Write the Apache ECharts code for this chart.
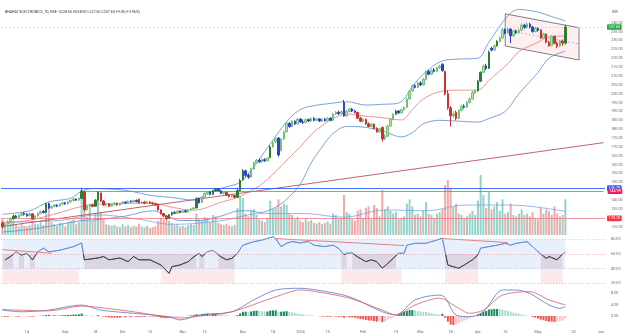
<!DOCTYPE html>
<html>
<head>
<meta charset="utf-8">
<script src="https://cdn.jsdelivr.net/npm/echarts@6/dist/echarts.min.js"></script>
<style>
html,body{margin:0;padding:0;background:#fff}
#c{width:630px;height:336px}
</style>
</head>
<body>
<div id="c"></div>
<script>
// ---- data ---------------------------------------------------------------
const symbolName = 'BHARAT ELECTRONICS, 1D, NSE';
const firstSession = '2023-08-01';
const lastAxisDay = '2024-06-04';

// daily bars: [open, close, low, high]
const ohlc = [
[127,125,124,128],[125,126.5,124.5,127.5],[126.5,128,125.5,128.8],[128,129.5,127.5,130.2],[129.5,131,129,131.8],
[131,130.2,129.6,131.6],[130.2,131.4,129.8,132],[131.4,132.6,131,133.2],[132.6,132,131.3,133.4],[132,131.2,130.6,132.6],
[131.2,132.3,130.8,132.9],[132.3,129.5,129,132.6],[129.5,131,129,131.5],[131,132.5,130.6,133],[132.5,133.6,132,134.2],
[133.6,133,132.5,134.4],[133,138,132.8,138.5],[138,135.6,135,138.6],[135.6,136.4,135,137],[136.4,137.2,136,137.8],
[137.2,136.6,136,137.6],[136.6,137.8,136.3,138.3],[137.8,138.5,137.2,139],[138.5,137.9,137.4,139],[137.9,139,137.5,139.6],
[139,139.8,138.6,140.3],[139.8,140.6,139.3,141.2],[140.6,140,139.5,141],[140,141,139.6,141.5],[141,145,140.5,147],
[144.6,134.6,133.8,145.2],[134.6,136.8,134,137.5],[136.8,137.4,136,138],[137.4,136.5,136,138],[136.5,140,136.2,140.5],
[140,144.4,139.8,145],[144,139.5,139,144.3],[139.5,137.2,136.8,140],[137.2,137.8,136.5,138.5],[137.8,136.6,136,138.2],
[136.6,137.6,136.2,138],[137.6,138.2,137,138.8],[138.2,137.3,136.8,138.6],[137.3,138,136.8,138.5],[138,138.9,137.6,139.4],
[138.9,138.4,137.9,139.3],[138.4,139.4,138,139.8],[139.4,139,138.5,139.9],[139,139.8,138.6,140.2],[139.8,139.2,138.7,140.4],
[140.5,138.4,138,140.8],[138.4,138.9,138,139.4],[138.9,138.2,137.7,139.3],[138.2,139,137.9,139.5],[139,138.4,137.9,139.4],
[138.4,138,137.4,138.9],[138,137.4,136.9,138.4],[137.4,134.5,134,137.6],[134.5,132.4,131.8,134.8],[132.4,131,130.4,132.8],
[131,129.8,128.9,131.4],[129.8,131.8,129.4,132.2],[131.8,133,131.2,133.5],[133,132.6,132,133.8],[132.6,133.8,132.2,134.2],
[133.8,133,132.6,134.3],[133,134,132.7,134.5],[134,133.4,132.9,134.4],[133.4,134.4,133,134.9],[134.4,135,134,135.5],
[135,135.6,134.6,136.2],[135.6,141,135.3,141.4],[141,138.6,138,141.5],[138.6,141.5,138.3,142],[141.5,143.8,141,144.4],
[143.8,144.6,143,145.2],[144.6,143.2,142.6,145],[143.2,145.2,142.9,145.8],[145.2,146.3,144.8,146.9],[146.3,145.3,144.8,146.7],
[145.3,143.8,143.4,145.6],[143.8,144.4,143.2,144.9],[144.4,142.8,142.3,144.7],[142.8,142,141.4,143.3],[142,142.6,141.4,143.2],
[142.6,141.6,141,143],[141.6,145.4,141.3,147],[145.4,151,145,152],[151.5,156.5,151,157.5],[156.5,154,153,157.2],
[154,153,152,155],[153,157.5,152.6,158.2],[157.5,161,157,161.8],[161,162.5,160.3,163.2],[162.5,161.6,161,163.4],
[161.6,162.8,161.2,163.5],[162.8,162.2,161.5,163.6],[162.2,163.7,161.8,164.2],[164,170,163.6,171],[170,172.5,169.5,173.5],
[173,174.5,172,175.5],[175,165.5,164.5,175.5],[168,174.5,167.5,175],[174.5,178.5,174,179.2],[178.5,183.2,178,184],
[183.2,181.5,180.8,184],[181.5,184.5,181,185.2],[184.5,183,182.4,185],[183,185.6,182.6,186.2],[185.6,184,183.5,186.3],
[184,183.8,183,185.5],[183.8,185.4,183.3,186],[185.4,184.6,184,186],[184.6,186,184.2,186.6],[186,185,184.4,186.8],
[185,185.8,184.5,186.4],[185.8,184.6,184,186.3],[184.6,185.6,184,186.2],[185.6,184.8,184.2,186.4],[184.8,186.2,184.4,186.8],
[186.2,185,184.5,186.8],[185,188.5,184.6,189.2],[188.5,189.5,187.8,190.2],[189.5,188.8,188,190.4],[188.8,189.8,188.3,190.6],
[195,187.5,187,196.5],[187.5,190,187,191],[190,191.4,189.4,192.2],[191.4,190.2,189.6,192],[190.2,189.5,188.8,191],
[189.5,186.2,185.6,189.8],[186.2,184.5,184,187],[184.5,185.5,183.8,186.2],[185.5,183,182.4,186],[183,181.5,181,183.8],
[181.5,182.8,181,183.4],[182.8,180.4,179.8,183.2],[180.4,178.5,178,181],[178.5,180.2,178,180.8],[181,174.5,173,181.4],
[174.5,176,174,177.2],[176,181.8,175.6,182.4],[181.8,185.5,181.4,186.2],[185.5,188.4,185,189],[188.4,190.2,188,191],
[190.2,189.2,188.5,190.8],[189.2,191,188.8,191.6],[191,192.2,190.4,192.8],[192.2,197,192,197.8],[197,201.5,196.5,202.2],
[201.5,204.5,201,205.2],[204.5,203.6,203,205.4],[203.6,206,203.2,206.8],[206,205,204.3,207],[205,208,204.6,208.8],
[208,212.5,207.6,213.2],[212.5,211,210.4,213.4],[211,213.4,210.6,214],[213.4,212.6,212,214.4],[212.6,214.6,212.2,215.2],
[214.6,215.5,214,216.2],[216.5,213,212.4,217.2],[212.5,200,199,212.8],[200,192,191,202],[192,187.5,181.5,193],
[187.5,188.5,186.4,190],[189.5,186,185,190.5],[186,190.5,185.6,191.2],[190.5,193,190,193.8],[193,192.4,191.6,194],
[192.4,195,192,195.8],[195,197,194.5,197.8],[197,200.5,196.6,201.5],[200.5,201.6,199.8,202.5],[201.6,207,201.2,207.8],
[207,212,206.6,212.6],[212,215.6,211.6,216.4],[215.6,214.2,213.4,216.8],[214.2,223.4,214,224.4],[225.6,224.6,223.8,226.4],
[224.6,227,224.2,227.8],[227,229.5,226.6,230.2],[229.5,231.4,228.8,232.2],[231.4,236,231,237],[236,234.2,233.4,236.8],
[234.2,236.4,233.8,237.4],[236.4,232.6,228.5,236.8],[232.6,235.4,232,236],[235.4,234.4,233.6,236.2],[234.4,235.8,233.8,236.6],
[235.8,238.6,235.2,239.6],[238.6,237.4,236.6,239.4],[237.4,239.2,236.8,240.2],[239.2,237.6,236.8,240],[237.6,235,234.4,238.2],
[235,236.8,234.6,237.6],[236.8,235.8,235,237.4],[235.8,231.4,230.8,236.4],[231.4,233.6,231,234.4],[233.6,229,228.4,234],
[229,227.2,226.4,229.8],[227.2,232.4,226.8,233],[232.4,228.4,227.8,232.8],[228.4,226.8,225.6,229.4],[226.8,229.6,226.2,230.4],
[229.6,228.55,227,230.6],[228.55,237.6,227.6,238.9]
];

// bar colouring from the trend study: G strong up, g up, B pullback, R down
const barTone = [
'RgggGBggBB','gRgggBGBgg','BggBgggBgG','RggRGGRRgR','ggRggBgBgB',
'RgRgRRRRRR','RGGBgBgBgg','gGBgggBGGB','BgRRgRGGGB','BgggBgBgGg',
'gBgggBgBgB','BgBgBgBgBg','BggBgBggBB','RRgRRgRRgR','ggggGBgggg',
'gBgBggBgBg','gBRRRgRggB','ggggGGgBGB','gGggBgBgBg','gBgBBgBRgR','RgRRgRG'
].join('');

// daily volume, millions of shares
const volume = [
22,15,14,18,20,14,12,15,13,12, 14,20,16,15,18,14,30,38,18,15,
13,17,16,12,18,20,22,15,18,63, 48,25,42,20,30,60,32,22,15,14,
13,14,12,11,15,12,14,11,13,12, 16,12,11,13,10,11,12,20,24,22,
26,20,17,14,15,12,13,11,14,15, 14,30,22,20,25,24,18,28,26,17,
15,14,16,13,12,14,38,55,52,30, 26,34,36,28,22,20,18,24,48,36,
38,50,40,44,42,30,28,22,25,20, 18,22,19,21,17,16,18,15,17,19,
16,30,28,22,24,56,32,30,22,20, 34,36,24,38,40,22,42,38,26,63,
36,40,34,30,32,22,24,26,44,50, 40,28,30,26,34,46,30,28,24,30,
32,36,70,77,66,40,44,30,28,24, 26,30,34,28,48,84,56,38,60,36,
40,46,34,50,30,32,44,28,26,30, 36,28,30,26,32,24,22,38,30,36,
34,28,40,30,26,28,50
];
const volumeAvg = [[0,18],[20,20],[35,28],[50,22],[62,15],[80,20],[95,30],[110,30],[125,25],[140,35],[155,34],[170,42],[185,42],[206,33]];

// Bollinger bands (20, 2) read at session index
const bbUpper = [[0,132],[10,134],[17,139],[25,141],[29,145],[33,146.5],[45,145.5],[55,142.5],[62,141.5],[70,140],[76,144.5],[82,147.5],[87,150],[91,157],[94,163],[100,176],[105,186],[109,191],[113,193],[121,194.7],[126,195.5],[133,193.6],[139,194],[145,194.7],[150,204],[154,211],[161,218.5],[167,219.5],[174,220],[178,229],[185,244],[189,247.5],[196,246],[200,244],[206,241]];
const bbMid = [[0,127],[10,128.7],[20,132.5],[29,136.5],[35,137.8],[45,138.2],[55,138.3],[62,136],[70,134.3],[80,138.8],[87,142],[91,145.5],[94,148],[100,156],[105,164],[109,170],[113,177],[117,182],[121,186],[126,188.5],[133,187.3],[139,186.5],[146,185.2],[150,191],[154,197],[161,201.5],[167,202],[174,202],[178,207.5],[185,217],[189,223.7],[196,229],[200,232],[206,232.5]];
const bbLower = [[0,122],[10,123.5],[20,126],[29,128.5],[35,129],[45,131],[55,134],[61,130.5],[65,128.5],[72,128.5],[80,131],[87,134],[91,134],[94,133],[100,136],[105,142],[109,149],[113,161],[117,170],[121,177.5],[126,181.5],[133,181],[139,179],[143,176.7],[146,175.6],[150,178],[154,183],[160,185],[167,184.5],[174,184],[178,186],[184,190],[189,200],[196,212],[200,220],[206,224]];

// drawings on the price pane
const longTrend = [[0,125.2],[220,172.4]];
const channelUpper = [[184,245],[211,237.2]];
const channelLower = [[184,226.9],[211,219]];
const resistanceLevel = 146.79;
const swingLevel = 144.99;
const swingStart = 29;
const supportLevel = 129.70;

// RSI (14)
const rsiPoints = [[1,52],[3,56.5],[5,63],[7,58.6],[9,61],[11,52],[13,63],[15,68],[17,63],[21,65],[24,68],[26,70],[29,75],[30,52],[35,54.5],[37,56.5],[39,52],[43,54.5],[46,49.5],[48,56.5],[50,52],[54,52],[58,45],[61,33.6],[62,42.6],[65,45],[68,49.5],[70,56],[72,61],[73,56.5],[75,63],[77,65],[80,56],[82,52],[84,54],[86,61],[88,72],[92,76.8],[95,79],[99,83.5],[100,81],[102,70],[104,74.5],[106,77],[109,75],[112,77],[114,72],[118,70],[121,72],[123,67.7],[125,59],[126,61],[128,61.5],[130,56],[133,49.5],[135,52],[137,49.5],[139,40.5],[141,47],[143,54],[145,61],[147,61],[148,72],[151,74.5],[155,74.5],[157,76.8],[159,79],[161,81.3],[162,63],[163,45],[165,42.6],[167,40.5],[169,45],[172,52],[174,58.6],[175,68],[178,70],[181,72],[184,74.5],[186,72],[188,74.5],[192,76.8],[194,70],[196,63],[199,54],[200,56.5],[203,52],[204,56.5],[206,63]];
const rsiWeak = [[0,4],[6,8],[10,12],[30,71],[72,74],[79,85],[124,126],[128,144],[162,174],[197,205]];
const rsiLowBand = [[0,28],[58,85],[124,146],[162,174],[197,205]];
const rsiTrends = [[[0,66],[18,61]],[[100,81],[147,71.5]],[[160,81.3],[185,75.5]]];
const rsiLevels = [80,60,40,20];
const rsiSplit = 60;

// MACD (12, 26, 9)
const macdLine = [[0,2.1],[7,1.5],[17,2.1],[29,3.9],[36,2.1],[48,0.95],[61,-0.25],[65,-1.4],[72,0.35],[84,1.5],[92,5.7],[100,9.2],[109,9.8],[115,9.2],[127,6.8],[139,1.5],[144,0.35],[151,5.7],[160,7.4],[162,6.5],[166,0.35],[171,-0.25],[176,1.5],[183,9.2],[188,9.2],[193,8],[200,3.9],[204,2.7],[206,3.3]];
const signalLine = [[0,2.3],[17,1.8],[29,3.5],[40,2.5],[48,1.5],[65,-0.7],[75,0.3],[84,1.5],[100,6.8],[109,9.2],[115,8.6],[127,6.3],[139,2.1],[144,0.35],[151,3.9],[160,6.3],[166,3.3],[171,0.95],[176,2.1],[183,7.4],[193,8.6],[200,5.7],[206,3.9]];
const macdHist = [
-0.2,-0.3,-0.3,-0.2,-0.1,-0.2,-0.3,-0.2,-0.1,-0.1, -0.2,-0.3,-0.2,-0.1,0.1,0.2,0.3,0.4,0.3,0.3,
0.2,0.2,0.3,0.3,0.4,0.4,0.5,0.5,0.6,0.9, 0.4,0.2,0.1,-0.1,0,0.3,0.1,-0.2,-0.4,-0.5,
-0.6,-0.6,-0.6,-0.6,-0.5,-0.5,-0.4,-0.4,-0.3,-0.3, -0.3,-0.3,-0.3,-0.2,-0.2,-0.2,-0.2,-0.4,-0.6,-0.7,
-0.8,-0.7,-0.5,-0.4,-0.3,-0.2,-0.1,0,0.1,0.2, 0.3,0.6,0.5,0.6,0.8,0.9,0.8,0.9,0.9,0.8,
0.6,0.5,0.3,0.1,0,-0.1,0.3,0.9,1.5,1.5, 1.4,1.6,1.8,1.9,1.8,1.7,1.6,1.6,1.9,2.0,
2.0,1.5,1.5,1.6,1.7,1.5,1.3,1.1,0.9,0.7, 0.5,0.4,0.3,0.2,0.1,0,-0.1,-0.2,-0.2,-0.3,
-0.3,-0.2,-0.2,-0.3,-0.3,-0.6,-0.5,-0.5,-0.5,-0.6, -0.9,-1.1,-1.2,-1.4,-1.6,-1.6,-1.8,-2.0,-1.9,-2.2,
-1.9,-1.4,-0.9,-0.5,0,0.8,1.2,1.5,1.8,2.1, 2.1,2.0,1.8,1.6,1.5,1.4,1.2,1.0,0.8,0.6,
0.5,0.8,-0.6,-2.0,-3.0,-3.2,-3.0,-2.6,-2.1,-1.6, -1.2,-0.8,-0.4,-0.1,0.4,1.0,1.5,1.8,2.3,2.4,
2.5,2.5,2.4,2.2,2.0,1.8,1.5,1.2,1.0,0.8, 0.6,0.4,0.2,0,-0.3,-0.6,-0.9,-1.3,-1.5,-1.8,
-2.0,-2.0,-2.1,-2.0,-1.8,-1.6,-1.0
];

// time axis ticks
const timeTicks = [
['2023-08-14','14'],['2023-09-01','Sep'],['2023-09-18','18'],['2023-10-02','Oct'],['2023-10-16','16'],
['2023-11-01','Nov'],['2023-11-13','13'],['2023-12-01','Dec'],['2023-12-18','18'],['2024-01-01','2024'],
['2024-01-15','15'],['2024-02-01','Feb'],['2024-02-19','19'],['2024-03-01','Mar'],['2024-03-18','18'],
['2024-04-01','Apr'],['2024-04-15','15'],['2024-05-01','May'],['2024-05-20','20'],['2024-06-03','Jun']
];

// ---- helpers --------------------------------------------------------------
function sessions(from, to) {
  const out = [];
  const d = new Date(from + 'T00:00:00Z');
  const end = new Date(to + 'T00:00:00Z');
  while (d <= end) {
    const wd = d.getUTCDay();
    if (wd !== 0 && wd !== 6) out.push(d.toISOString().slice(0, 10));
    d.setUTCDate(d.getUTCDate() + 1);
  }
  return out;
}
const days = sessions(firstSession, lastAxisDay);
const tickMap = new Map(timeTicks);

const toneStyle = {
  G: { color: '#2e7d32', color0: '#2e7d32', borderColor: '#2e7d32', borderColor0: '#2e7d32' },
  g: { color: '#b9e0b1', color0: '#b9e0b1', borderColor: '#72bf76', borderColor0: '#72bf76' },
  B: { color: '#2f3fd0', color0: '#2f3fd0', borderColor: '#2f3fd0', borderColor0: '#2f3fd0' },
  R: { color: '#d32f2f', color0: '#d32f2f', borderColor: '#d32f2f', borderColor0: '#d32f2f' }
};

const candleData = ohlc.map((v, i) => ({ value: v, itemStyle: toneStyle[barTone[i]] }));
const volumeData = volume.map((v, i) => ({
  value: v,
  itemStyle: { color: ohlc[i][1] >= ohlc[i][0] ? '#93d3cb' : '#f5a9a6' }
}));
const histData = macdHist.map((v, i) => {
  const prev = i > 0 ? macdHist[i - 1] : v;
  let c;
  if (v >= 0) c = v >= prev ? '#138a5e' : '#a9ded6';
  else c = v <= prev ? '#ef5350' : '#f8c6c8';
  return { value: v, itemStyle: { color: c } };
});

const last = ohlc[ohlc.length - 1];
const prevClose = ohlc[ohlc.length - 2][1];
const chg = last[1] - prevClose;
const sign = chg >= 0 ? '+' : '';
const headerText = symbolName + '  O' + last[0].toFixed(2) + ' H' + last[3].toFixed(2) +
  ' L' + last[2].toFixed(2) + ' C' + last[1].toFixed(2) + ' ' + sign + chg.toFixed(2) +
  ' (' + sign + (chg / prevClose * 100).toFixed(2) + '%)';

// segments of the 40-60 band not covered by a weak stretch
const lastIdx = ohlc.length - 1;
const rsiStrong = [];
let cursor = 0;
rsiWeak.forEach(([a, b]) => { if (a > cursor) rsiStrong.push([cursor, a]); cursor = Math.max(cursor, b); });
if (cursor < lastIdx) rsiStrong.push([cursor, lastIdx]);

const area = (segs, lo, hi, color) => segs.map(([a, b]) => [
  { xAxis: days[a], yAxis: lo, itemStyle: { color: color } },
  { xAxis: days[b], yAxis: hi }
]);

const small = { fontSize: 3.8, color: '#6b6b6b', fontFamily: 'Roboto' };
const tag = (bg) => ({ show: true, position: 'end', distance: 2, fontSize: 3.8, color: '#fff',
  backgroundColor: bg, padding: [1, 1.5, 0.6, 1.5], borderRadius: 1, fontFamily: 'Roboto' });

const chart = echarts.init(document.getElementById('c'));

const grids = [
  { left: 1, width: 604, top: 5, height: 230.6 },
  { left: 1, width: 604, top: 135, height: 100 },
  { left: 1, width: 604, top: 224.63, height: 73.35 },
  { left: 1, width: 604, top: 282.1, height: 45.2 }
];

const xAxes = grids.map((g, i) => ({
  type: 'category', gridIndex: i, data: days, boundaryGap: true,
  axisLine: { show: false }, axisTick: { show: false }, splitLine: { show: false },
  axisLabel: i === 3 ? Object.assign({
    interval: (idx, v) => tickMap.has(v), formatter: v => tickMap.get(v) || '', margin: 2.5
  }, small) : { show: false }
}));

const yBase = { axisLine: { show: false }, axisTick: { show: false }, splitLine: { show: false } };
const yAxes = [
  Object.assign({ gridIndex: 0, position: 'right', min: 120, max: 250, interval: 5,
    axisLabel: Object.assign({ margin: 6, formatter: v => (v >= 125 && v <= 240 && v !== 145 && v !== 130) ? v.toFixed(2) : '' }, small) }, yBase),
  Object.assign({ gridIndex: 1, min: 0, max: 140, show: false }, yBase),
  Object.assign({ gridIndex: 2, position: 'right', min: 0, max: 100, interval: 20,
    axisLabel: Object.assign({ margin: 6, formatter: v => (v >= 20 && v <= 80) ? v.toFixed(2) : '' }, small) }, yBase),
  Object.assign({ gridIndex: 3, position: 'right', min: -4, max: 12, interval: 4,
    axisLabel: Object.assign({ margin: 6, formatter: v => (v >= 0 && v <= 8) ? v.toFixed(2) : '' }, small) }, yBase)
];

const thinLine = (data, color, width, xi, yi, extra) => Object.assign({
  type: 'line', data: data, xAxisIndex: xi, yAxisIndex: yi, showSymbol: false, symbol: 'none',
  lineStyle: { color: color, width: width }, silent: true, z: 3
}, extra || {});

const series = [];
// volume overlay in the lower part of the price pane
series.push({ type: 'bar', xAxisIndex: 1, yAxisIndex: 1, data: volumeData, barWidth: 2, silent: true, z: 1 });
series.push(thinLine(volumeAvg, '#6d9be0', 0.7, 1, 1, { smooth: 0.4, z: 2 }));
// price channel
series.push({
  type: 'custom', xAxisIndex: 0, yAxisIndex: 0, data: [[0, 0]], silent: true, z: 2,
  renderItem: (params, api) => {
    const a = api.coord(channelUpper[0]), b = api.coord(channelUpper[1]);
    const c = api.coord(channelLower[1]), d = api.coord(channelLower[0]);
    return { type: 'group', children: [
      { type: 'polygon', shape: { points: [a, b, c, d] },
        style: { fill: 'rgba(239,83,80,0.09)', stroke: '#5f5f5f', lineWidth: 0.8 } },
      { type: 'line', shape: { x1: (a[0] + d[0]) / 2, y1: (a[1] + d[1]) / 2, x2: (b[0] + c[0]) / 2, y2: (b[1] + c[1]) / 2 },
        style: { stroke: '#6d9be0', lineDash: [2, 2], lineWidth: 0.6 } }
    ] };
  }
});
// long rising trendline
series.push(thinLine(longTrend, '#b23a48', 0.8, 0, 0));
// Bollinger bands
series.push(thinLine(bbUpper, '#5b8ad6', 0.8, 0, 0, { smooth: 0.35 }));
series.push(thinLine(bbMid, '#e06b6b', 0.7, 0, 0, { smooth: 0.35 }));
series.push(thinLine(bbLower, '#5b8ad6', 0.8, 0, 0, { smooth: 0.35 }));
// candles
series.push({
  type: 'candlestick', xAxisIndex: 0, yAxisIndex: 0, data: candleData, barWidth: 2, silent: true, z: 5,
  markLine: {
    silent: true, symbol: ['none', 'none'], animation: false,
    data: [
      { yAxis: last[1], lineStyle: { color: '#c4c4c4', type: [2, 2], width: 0.6 },
        label: Object.assign(tag('#22a447'), { formatter: () => last[1].toFixed(2) }) },
      { yAxis: resistanceLevel, lineStyle: { color: '#2962ff', type: 'solid', width: 0.9 },
        label: Object.assign(tag('#2962ff'), { formatter: () => resistanceLevel.toFixed(2) }) },
      [ { xAxis: days[swingStart], yAxis: swingLevel,
          lineStyle: { color: '#e3557a', type: 'solid', width: 0.8 },
          label: Object.assign(tag('#e91e63'), { formatter: () => swingLevel.toFixed(2), distance: 4 }) },
        { xAxis: days[days.length - 1], yAxis: swingLevel } ],
      { yAxis: supportLevel, lineStyle: { color: '#ef7b8a', type: 'solid', width: 0.8 },
        label: Object.assign(tag('#f23645'), { formatter: () => supportLevel.toFixed(2) }) }
    ]
  }
});
// RSI pane
const rsiIndex = series.length;
series.push(thinLine(rsiPoints, '#3b3b3b', 0.8, 2, 2, {
  z: 4,
  markArea: {
    silent: true,
    data: [].concat(
      area([[0, lastIdx]], 60, 80, '#e9f0fb'),
      area(rsiStrong, 40, 60, '#e9f0fb'),
      area(rsiWeak, 40, 60, '#dcd6e3'),
      area(rsiLowBand, 20, 40, '#fde9e9')
    )
  },
  markLine: {
    silent: true, symbol: ['none', 'none'], label: { show: false },
    data: rsiLevels.map(v => ({ yAxis: v, lineStyle: {
      color: v === 60 ? '#e58a8a' : (v === 80 ? '#a9bbd8' : '#8aa9dd'), type: [1.2, 1.8], width: 0.6 } }))
  }
}));
rsiTrends.forEach(seg => series.push(thinLine(seg, '#e06666', 0.8, 2, 2)));
// MACD pane
series.push({ type: 'bar', xAxisIndex: 3, yAxisIndex: 3, data: histData, barWidth: 2, silent: true, z: 2 });
series.push(thinLine(macdLine, '#4f79d9', 0.8, 3, 3, { smooth: 0.3 }));
series.push(thinLine(signalLine, '#e25a5a', 0.8, 3, 3, { smooth: 0.3 }));

chart.setOption({
  animation: false,
  backgroundColor: '#fff',
  textStyle: { fontFamily: 'Roboto' },
  grid: grids,
  xAxis: xAxes,
  yAxis: yAxes,
  graphic: [
    { type: 'text', x: 5, y: 10, style: { text: headerText, fontSize: 3.6, fill: '#333', fontFamily: 'Roboto' } },
    { type: 'text', x: 612, y: 10, style: { text: 'INR', fontSize: 3.6, fill: '#666', fontFamily: 'Roboto' } }
  ],
  series: series
});

// RSI line: blue above the 60 level, dark below it
const splitY = chart.convertToPixel({ yAxisIndex: 2 }, rsiSplit);
const rsiSeries = series.map(() => ({}));
rsiSeries[rsiIndex] = { lineStyle: { color: {
  type: 'linear', global: true, x: 0, y: splitY - 0.5, x2: 0, y2: splitY + 0.5,
  colorStops: [
    { offset: 0, color: '#5b8ad6' }, { offset: 0.5, color: '#5b8ad6' },
    { offset: 0.5, color: '#3b3b3b' }, { offset: 1, color: '#3b3b3b' }
  ] } } };
chart.setOption({ series: rsiSeries });
</script>
</body>
</html>
